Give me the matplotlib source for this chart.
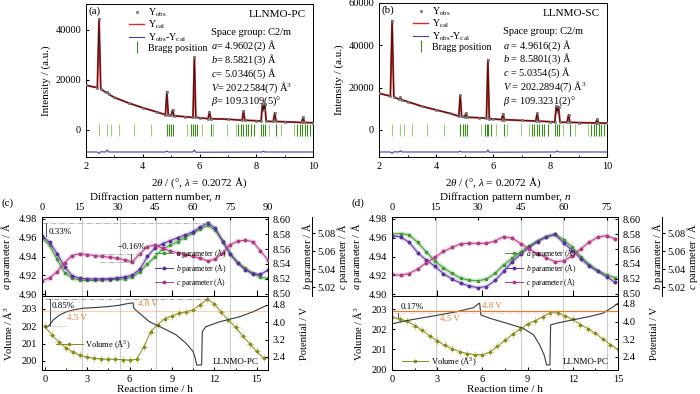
import numpy as np
import matplotlib
matplotlib.use('Agg')
import matplotlib.pyplot as plt
from matplotlib.ticker import MultipleLocator

plt.rcParams['font.family'] = ['Liberation Serif', 'DejaVu Serif']
plt.rcParams['mathtext.fontset'] = 'custom'
plt.rcParams['mathtext.rm'] = 'Liberation Serif'
plt.rcParams['mathtext.it'] = 'Liberation Serif:italic'
plt.rcParams['font.size'] = 7.5
plt.rcParams['xtick.direction'] = 'in'
plt.rcParams['ytick.direction'] = 'in'
plt.rcParams['xtick.major.size'] = 2.5
plt.rcParams['ytick.major.size'] = 2.5
plt.rcParams['xtick.minor.size'] = 1.5
plt.rcParams['axes.linewidth'] = 0.7

# ---------------- (a) LLNMO-PC refinement ----------------
tth_pc = [2.0, 2.4, 2.46, 2.52, 2.7, 2.75, 2.8, 3.0, 3.5, 4.0, 4.5, 4.8, 4.85, 4.9,
          5.0, 5.05, 5.1, 5.5, 5.77, 5.82, 5.87, 6.0, 6.3, 6.35, 6.4, 7.0, 7.5, 7.55,
          7.6, 8.0, 8.17, 8.22, 8.26, 8.30, 8.35, 8.6, 8.65, 8.7, 9.0, 9.6, 9.65, 9.7, 10.0]
obs_pc = [17900, 16900, 44400, 16500, 15000, 15300, 14300, 13000, 10800, 8900, 7200,
          6100, 15300, 6000, 5800, 8000, 5700, 5300, 5000, 29300, 5000, 4900, 4500,
          7300, 4500, 4300, 3900, 7600, 3900, 3700, 3600, 10400, 8000, 10400, 3500,
          3400, 6900, 3400, 3300, 3000, 5100, 3000, 2900]
dtth_pc = [2.0, 2.4, 2.46, 2.52, 2.7, 2.75, 2.8, 4.8, 4.85, 4.9, 5.77, 5.82, 5.87,
           8.2, 8.26, 8.3, 10.0]
diff_pc = [-8800, -8800, -9400, -8700, -8800, -8000, -8800, -8800, -8400, -8800,
           -8800, -8000, -8900, -8800, -8500, -8800, -8800]

# ---------------- (b) LLNMO-SC refinement ----------------
tth_sc = tth_pc
obs_sc = [17300, 16000, 51700, 15600, 14500, 15400, 14200, 13400, 11200, 9500, 7800,
          6500, 16500, 6400, 6100, 7900, 6000, 5800, 5500, 33100, 5400, 5200, 4900,
          7600, 4900, 4500, 4200, 7900, 4200, 3900, 3800, 11300, 8500, 11000, 3700,
          3600, 7100, 3600, 3500, 3300, 5000, 3300, 3200]
dtth_sc = dtth_pc
diff_sc = [-10400, -10400, -11000, -10300, -10400, -9800, -10400, -10400, -10000,
           -10400, -10400, -9500, -10500, -10400, -9900, -10400, -10400]

bragg_dark = [4.84, 4.93, 5.01, 5.08, 5.71, 5.78, 5.84, 5.92, 6.39, 7.36, 7.45, 7.54,
              7.63, 7.71, 7.80, 7.92, 8.16, 8.24, 8.30, 8.69, 9.45, 9.54, 9.62, 9.71,
              9.80, 9.89, 9.99]
bragg_light = [2.46, 2.75, 2.87, 3.16, 3.69, 4.28, 5.57, 6.10, 6.49, 6.98, 7.28,
               8.46, 8.86, 9.33]

text_pc = ['Space group: C2/m', r'$a$= 4.9602(2) Å', r'$b$= 8.5821(3) Å',
           r'$c$= 5.0346(5) Å', r'$V$= 202.2584(7) Å$^3$', r'$\beta$= 109.3109(5)°']
text_sc = ['Space group: C2/m', r'$a$ = 4.9616(2) Å', r'$b$ = 8.5801(3) Å',
           r'$c$ = 5.0354(5) Å', r'$V$ = 202.2894(7) Å$^3$', r'$\beta$ = 109.3231(2)°']

# ---------------- (c) operando, LLNMO-PC ----------------
n_pc = np.arange(0, 91, 3)
a_pc = [4.960, 4.952, 4.937, 4.923, 4.917, 4.915, 4.9146, 4.9146, 4.915, 4.9155,
        4.9156, 4.9164, 4.918, 4.924, 4.932, 4.940, 4.948, 4.952, 4.956, 4.960,
        4.9647, 4.969, 4.9732, 4.968, 4.9565, 4.943, 4.9334, 4.9274, 4.922, 4.918, 4.9167]
b_pc = [8.578, 8.569, 8.554, 8.5364, 8.5244, 8.521, 8.520, 8.520, 8.520, 8.5204,
        8.5213, 8.5227, 8.5253, 8.533, 8.550, 8.5618, 8.567, 8.571, 8.575, 8.5787,
        8.5827, 8.5893, 8.595, 8.5876, 8.570, 8.553, 8.541, 8.532, 8.527, 8.526, 8.532]
c_pc = [5.027, 5.030, 5.037, 5.047, 5.055, 5.057, 5.056, 5.055, 5.054, 5.053,
        5.052, 5.050, 5.048, 5.057, 5.065, 5.0665, 5.063, 5.060, 5.058, 5.056,
        5.054, 5.052, 5.049, 5.051, 5.058, 5.067, 5.071, 5.072, 5.0705, 5.060, 5.050]
tv_pc = np.arange(0, 15.6, 0.5)
vol_pc = [202.0, 201.5, 201.1, 200.75, 200.5, 200.33, 200.22, 200.15, 200.12, 200.1,
          200.1, 200.08, 200.05, 200.1, 200.8, 201.7, 202.1, 202.45, 202.6, 202.75,
          202.85, 202.95, 203.25, 203.55, 203.3, 202.8, 202.35, 201.95, 201.45, 201.0,
          200.55, 200.15]
tp_pc = [0.05, 0.3, 0.6, 1.05, 1.5, 2.0, 2.7, 3.5, 4.4, 5.2, 6.0, 6.25, 6.3, 6.7, 7.4,
         8.4, 9.3, 10.0, 10.5, 10.65, 10.75, 11.1, 11.15, 11.4, 12.4, 13.8, 14.75, 15.6]
pot_pc = [3.75, 3.85, 4.11, 4.34, 4.48, 4.57, 4.65, 4.68, 4.72, 4.78, 4.88, 4.9, 4.65,
          4.42, 4.03, 3.72, 3.42, 3.03, 2.65, 2.35, 2.03, 2.03, 3.57, 3.8, 4.03, 4.26,
          4.49, 4.75]
vlines_pc = [2.6, 5.3, 7.9, 10.5, 13.1]

# ---------------- (d) operando, LLNMO-SC ----------------
n_sc = np.arange(0, 79, 3)
a_sc = [4.964, 4.9645, 4.963, 4.955, 4.945, 4.935, 4.928, 4.922, 4.917, 4.9148,
        4.9142, 4.916, 4.922, 4.931, 4.938, 4.945, 4.951, 4.957, 4.961, 4.9635,
        4.958, 4.950, 4.940, 4.9315, 4.925, 4.9205, 4.9175]
b_sc = [8.578, 8.576, 8.569, 8.555, 8.545, 8.537, 8.527, 8.520, 8.5145, 8.5105,
        8.5085, 8.5098, 8.518, 8.530, 8.543, 8.553, 8.5625, 8.570, 8.5765, 8.5795,
        8.568, 8.558, 8.547, 8.537, 8.530, 8.523, 8.5155]
c_sc = [5.034, 5.033, 5.035, 5.040, 5.047, 5.053, 5.0595, 5.064, 5.068, 5.0685,
        5.0685, 5.0685, 5.071, 5.076, 5.0745, 5.068, 5.062, 5.057, 5.0525, 5.048,
        5.049, 5.0545, 5.0625, 5.070, 5.0755, 5.077, 5.0735]
tv_sc = np.arange(0, 15.1, 0.5)
vol_sc = [202.6, 202.52, 202.4, 202.19, 201.96, 201.67, 201.43, 201.2, 201.03, 200.89,
          200.8, 200.75, 200.74, 200.87, 201.15, 201.45, 201.75, 202.0, 202.26, 202.43,
          202.63, 202.82, 202.83, 202.65, 202.5, 202.24, 202.04, 201.8, 201.52, 201.24,
          201.0]
tp_sc = [0.0, 1.0, 2.08, 3.2, 4.29, 5.4, 5.78, 5.82, 5.9, 6.5, 7.6, 8.7, 9.4, 9.8, 10.1,
         10.26, 10.48, 10.53, 10.93, 12.0, 13.1, 14.0, 14.7, 15.0]
pot_sc = [3.9, 4.05, 4.18, 4.31, 4.45, 4.63, 4.83, 4.83, 4.3, 4.15, 3.93, 3.7, 3.4, 2.94,
          2.49, 2.04, 2.04, 3.85, 3.93, 4.08, 4.23, 4.38, 4.68, 4.83]
vlines_sc = [2.9, 8.54, 11.35, 14.25]

GREEN = '#3f9a35'
PURPLE = '#5a2f9c'
MAGENTA = '#b23a82'
OLIVE = '#8a8a22'
ORANGE = '#ee7b2c'

fig = plt.figure(figsize=(7, 3.94), dpi=100)
PX = 72 / 100  # points per pixel


def xrd_panel(pos, tth, obs, dtth, diff, ylim, yticks, tag, sample, lines, tx, leg_x):
    ax = fig.add_axes(pos)
    ax.plot(tth, obs, color='#d42a2a', lw=1.4, zorder=2)
    ax.plot(tth, obs, color='#3a1414', lw=0.7, zorder=3)
    h_obs, = ax.plot(tth, obs, 'o', ms=1.8, mfc='#888888', mec='#555555', mew=0.3, zorder=4)
    h_cal, = ax.plot([], [], color='#d42a2a', lw=1.0)
    h_dif, = ax.plot(dtth, diff, color='#4b3c9e', lw=0.8)
    h_br, = ax.plot(bragg_dark, [0] * len(bragg_dark), '|', color='#3f8a1f', ms=9, mew=0.8)
    ax.plot(bragg_light, [0] * len(bragg_light), '|', color='#9fcc80', ms=9, mew=0.8)
    ax.set_xlim(2, 10)
    ax.set_ylim(*ylim)
    ax.set_yticks(yticks)
    ax.set_xticks([2, 4, 6, 8, 10])
    ax.xaxis.set_minor_locator(MultipleLocator(1))
    ax.set_xlabel(r'2$\theta$ / (°, $\lambda$ = 0.2072 Å)', fontsize=8, labelpad=3)
    ax.set_ylabel('Intensity / (a.u.)', fontsize=8, labelpad=3)
    ax.legend([h_obs, h_cal, h_dif, h_br],
              [r'Y$_{\rm obs}$', r'Y$_{\rm cal}$', r'Y$_{\rm obs}$-Y$_{\rm cal}$', 'Bragg position'],
              loc='upper left', bbox_to_anchor=(leg_x, 1.03), frameon=False, fontsize=7.2,
              handlelength=1.5, labelspacing=0.0, handletextpad=0.4, borderpad=0.2)
    ax.text(0.01, 0.985, tag, transform=ax.transAxes, ha='left', va='top', fontsize=8)
    ax.text(0.97, 0.96, sample, transform=ax.transAxes, ha='right', va='top', fontsize=8)
    for i, s in enumerate(lines):
        ax.text(tx, 0.815 - i * 0.09, s, transform=ax.transAxes, ha='left', va='center', fontsize=7.5)
    return ax


xrd_panel([86 / 700, 1 - 157 / 394, 227 / 700, 153 / 394], tth_pc, obs_pc, dtth_pc, diff_pc,
          (-10800, 50400), [0, 20000, 40000], '(a)', 'LLNMO-PC', text_pc, 0.55, 0.16)
xrd_panel([379 / 700, 1 - 157 / 394, 228 / 700, 154 / 394], tth_sc, obs_sc, dtth_sc, diff_sc,
          (-12770, 60000), [0, 20000, 40000, 60000], '(b)', 'LLNMO-SC', text_sc, 0.545, 0.12)


def operando_panel(left, n, a_par, b_par, c_par, nlim, nticks, tlim, tv, vol, tp, pot,
                   vlim, plim, vlines, tag, orange_alpha):
    w = 226 / 700
    axA = fig.add_axes([left, 1 - 296 / 394, w, 79 / 394])
    axB = axA.twinx()
    axC = axA.twinx()
    axC.spines['right'].set_position(('outward', 44 * PX))

    def t2n(t):
        return nlim[0] + (np.asarray(t) - tlim[0]) * (nlim[1] - nlim[0]) / (tlim[1] - tlim[0])

    def n2t(x):
        return tlim[0] + (np.asarray(x) - nlim[0]) * (tlim[1] - tlim[0]) / (nlim[1] - nlim[0])

    for t in vlines:
        axA.axvline(t2n(t), color='#cccccc', lw=0.8, zorder=0)

    axA.plot(n, a_par, color=GREEN, lw=3, alpha=0.25)
    hA, = axA.plot(n, a_par, '-s', color=GREEN, lw=0.7, ms=1.8, label=r'$a$ parameter (Å)')
    axB.plot(n, b_par, color=PURPLE, lw=3, alpha=0.2)
    hB, = axB.plot(n, b_par, '-o', color=PURPLE, lw=0.7, ms=1.8, label=r'$b$ parameter (Å)')
    axC.plot(n, c_par, color=MAGENTA, lw=3, alpha=0.2)
    hC, = axC.plot(n, c_par, '-o', color=MAGENTA, lw=0.7, ms=1.8, label=r'$c$ parameter (Å)')

    axA.set_xlim(*nlim)
    axA.set_ylim(4.898, 4.9821)
    axB.set_ylim(8.4973, 8.6027)
    axC.set_ylim(5.010, 5.0978)
    axA.set_yticks([4.90, 4.92, 4.94, 4.96, 4.98])
    axB.set_yticks([8.50, 8.52, 8.54, 8.56, 8.58, 8.60])
    axC.set_yticks([5.02, 5.04, 5.06, 5.08])
    axA.yaxis.set_major_formatter('{x:.2f}')
    axB.yaxis.set_major_formatter('{x:.2f}')
    axC.yaxis.set_major_formatter('{x:.2f}')
    axC.tick_params(axis='y', direction='out', pad=1.5)
    axA.xaxis.tick_top()
    axA.xaxis.set_label_position('top')
    axA.set_xticks(nticks)
    axA.set_xlabel(r'Diffraction pattern number, $n$', fontsize=8, labelpad=2)
    sec = axA.secondary_xaxis('bottom', functions=(n2t, t2n))
    sec.set_xticks([0, 3, 6, 9, 12, 15])
    sec.tick_params(axis='x', direction='in', labelbottom=False, length=4)
    axA.set_ylabel(r'$a$ parameter / Å', fontsize=7.6)
    axA.yaxis.set_label_coords(-0.122, 0.5)
    axB.set_ylabel(r'$b$ parameter / Å', fontsize=7.6)
    axB.yaxis.set_label_coords(1.14, 0.5)
    axC.set_ylabel(r'$c$ parameter / Å', fontsize=7.6)
    axC.yaxis.set_label_coords(1.295, 0.5)
    axC.legend([hA, hB, hC], [hA.get_label(), hB.get_label(), hC.get_label()],
               loc='lower left', bbox_to_anchor=(0.47, 0.0), frameon=False, fontsize=5.5,
               handlelength=2.4, labelspacing=0.2, handletextpad=0.4)
    fig.text(left - 40 / 700, 1 - 203 / 394, tag, ha='left', va='center', fontsize=8)

    axV = fig.add_axes([left, 1 - 370 / 394, w, 74 / 394])
    axP = axV.twinx()
    for t in vlines:
        axV.axvline(t, color='#cccccc', lw=0.8, zorder=0)
    axV.plot(tv, vol, '+', color='#dede9a', ms=6, mew=0.8)
    hV, = axV.plot(tv, vol, '-o', color=OLIVE, lw=0.7, ms=1.6, label=r'Volume (Å$^3$)')
    axP.plot(tp, pot, color='#3a3a3a', lw=0.8)
    axP.axhline(4.5, color=ORANGE, lw=0.9, alpha=orange_alpha)
    axV.set_xlim(*tlim)
    axV.set_ylim(*vlim)
    axP.set_ylim(*plim)
    axV.set_xticks([0, 3, 6, 9, 12, 15])
    axV.xaxis.set_minor_locator(MultipleLocator(1.5))
    axV.set_yticks([200, 201, 202, 203])
    axP.set_yticks([2.4, 3.2, 4.0, 4.8])
    axV.set_xlabel('Reaction time / h', fontsize=8, labelpad=1)
    axV.set_ylabel(r'Volume / Å$^3$', fontsize=7.6)
    axV.yaxis.set_label_coords(-0.122, 0.5)
    axP.set_ylabel('Potential / V', fontsize=7.6)
    axP.yaxis.set_label_coords(1.14, 0.5)
    axV.text(0.96, 0.06, 'LLNMO-PC', transform=axV.transAxes, ha='right', va='bottom', fontsize=6.5)
    return axA, axB, axC, axV, axP, hV


# (c)
axA, axB, axC, axV, axP, hV = operando_panel(
    42 / 700, n_pc, a_pc, b_pc, c_pc, (0, 90), [0, 15, 30, 45, 60, 75, 90], (-0.2, 15.8),
    tv_pc, vol_pc, tp_pc, pot_pc, (199.48, 203.75), (1.80, 5.215), vlines_pc, '(c)', 0.35)
i_max = int(np.argmax(b_pc))
axB.plot([n_pc[0], n_pc[i_max]], [max(b_pc)] * 2, ls='-.', color='#aaaaaa', lw=0.6)
axB.plot([1.5, 1.5], [b_pc[0], max(b_pc)], color='#333333', lw=0.6)
axB.text(2.5, 8.583, '0.33%', fontsize=6.5, ha='left', va='center')
axC.plot([n_pc[5] + 8, n_pc[13]], [c_pc[5]] * 2, ls='-.', color='#aaaaaa', lw=0.6)
axC.plot([n_pc[5] + 8, n_pc[12]], [c_pc[12]] * 2, ls='-.', color='#aaaaaa', lw=0.6)
axC.plot([n_pc[12] - 0.5] * 2, [c_pc[12], c_pc[5]], color='#333333', lw=0.6)
axC.text(30, 5.0645, '−0.16%', fontsize=6.5, ha='left', va='center')
j_max = int(np.argmax(vol_pc))
axV.plot([tv_pc[0], tv_pc[j_max]], [max(vol_pc)] * 2, ls='-.', color='#999999', lw=0.6)
axV.plot([0.35, 0.35], [vol_pc[0], max(vol_pc)], color='#333333', lw=0.6)
axV.plot([0.35, 1.5], [vol_pc[0]] * 2, ls=':', color='#999999', lw=0.6)
axV.text(0.5, 203.15, '0.85%', fontsize=6.5, ha='left', va='center')
axP.text(1.6, 4.2, '4.5 V', color=ORANGE, fontsize=6.5, ha='left', va='center')
axP.text(6.6, 4.85, '4.8 V', color=ORANGE, fontsize=6.5, ha='left', va='center')
axV.legend([hV], [hV.get_label()], loc='center left', bbox_to_anchor=(0.04, 0.34),
           frameon=False, fontsize=6, handlelength=3.2, handletextpad=0.3, borderpad=0.1)

# (d)
axA, axB, axC, axV, axP, hV = operando_panel(
    392 / 700, n_sc, a_sc, b_sc, c_sc, (0, 79), [0, 15, 30, 45, 60, 75], (0, 15),
    tv_sc, vol_sc, tp_sc, pot_sc, (199.98, 203.66), (1.81, 5.16), vlines_sc, '(d)', 1.0)
axA.plot([n_sc[0], n_sc[int(np.argmax(a_sc))]], [max(a_sc)] * 2, ls='-.', color='#dddddd', lw=0.6)
k_max = int(np.argmax(vol_sc))
axV.plot([0.4, 0.4], [vol_sc[0], max(vol_sc)], color='#333333', lw=0.6)
axV.plot([tv_sc[0], tv_sc[k_max]], [max(vol_sc)] * 2, ls='-.', color='#dddddd', lw=0.6)
axV.text(0.6, 203.1, '0.17%', fontsize=6.5, ha='left', va='center')
axP.text(3.2, 4.12, '4.5 V', color=ORANGE, fontsize=6.5, ha='left', va='center')
axP.text(6.0, 4.72, '4.8 V', color=ORANGE, fontsize=6.5, ha='left', va='center')
axV.legend([hV], [hV.get_label()], loc='center left', bbox_to_anchor=(0.02, 0.11),
           frameon=False, fontsize=6, handlelength=3.2, handletextpad=0.3, borderpad=0.1)

fig.savefig('out.png', dpi=100)
